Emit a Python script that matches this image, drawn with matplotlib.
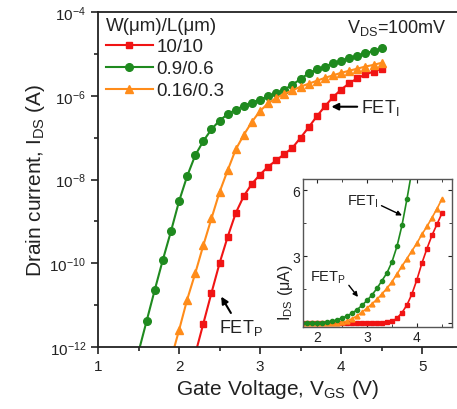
import numpy as np
import matplotlib
matplotlib.use("Agg")
import matplotlib.pyplot as plt
from matplotlib.ticker import NullFormatter, MultipleLocator

plt.rcParams['font.family'] = ['Liberation Sans', 'DejaVu Sans']
plt.rcParams['mathtext.default'] = 'regular'

# ---------------------------------------------------------------
# Main panel data: log10(I_DS / A) vs V_GS (V), step 0.1 V
# ---------------------------------------------------------------
vgs_red = np.round(np.arange(2.2, 4.51, 0.1), 2)
log_red = [-12.17, -11.44, -10.71, -10.00, -9.37, -8.80, -8.39, -8.10, -7.88,
           -7.69, -7.54, -7.39, -7.24, -7.00, -6.75, -6.49, -6.25, -6.03,
           -5.85, -5.70, -5.58, -5.49, -5.42, -5.35]

vgs_green = np.round(np.arange(1.5, 4.51, 0.1), 2)
log_green = [-12.12, -11.38, -10.64, -9.92, -9.24, -8.52, -7.92, -7.42, -7.08,
             -6.80, -6.59, -6.44, -6.33, -6.24, -6.16, -6.09, -6.01, -5.93,
             -5.85, -5.73, -5.60, -5.46, -5.37, -5.30, -5.22, -5.16, -5.10,
             -5.04, -4.98, -4.93, -4.86]

vgs_orange = np.round(np.arange(1.9, 4.51, 0.1), 2)
log_orange = [-12.30, -11.60, -10.87, -10.24, -9.57, -8.93, -8.30, -7.78, -7.28,
              -6.93, -6.62, -6.36, -6.18, -6.05, -5.95, -5.87, -5.78, -5.71,
              -5.64, -5.57, -5.51, -5.45, -5.40, -5.35, -5.30, -5.26, -5.21]

labels = ['10/10', '0.9/0.6', '0.16/0.3']

# ---------------------------------------------------------------
# Inset data: linear I_DS (uA)
# ---------------------------------------------------------------
vin_green = np.round(np.arange(1.7, 3.91, 0.1), 2)
iin_green = [0.0, 0.0, 0.0, 0.0, 0.0, 0.03, 0.06, 0.12, 0.20, 0.30, 0.42, 0.58,
             0.78, 1.00, 1.25, 1.55, 1.90, 2.25, 2.75, 3.45, 4.40, 5.60, 6.90]

vin_orange = np.round(np.arange(1.7, 4.51, 0.1), 2)
iin_orange = [0.0, 0.0, 0.0, 0.0, 0.0, 0.0, 0.0, 0.0, 0.02, 0.06, 0.18, 0.30,
              0.47, 0.65, 0.85, 1.05, 1.30, 1.55, 1.85, 2.20, 2.55, 2.90, 3.25,
              3.60, 4.00, 4.35, 4.75, 5.15, 5.60]

vin_red = np.round(np.arange(1.7, 4.51, 0.1), 2)
iin_red = [0.0, 0.0, 0.0, 0.0, 0.0, 0.0, 0.0, 0.0, 0.0, 0.0, 0.0, 0.0, 0.0,
           0.0, 0.0, 0.0, 0.0, 0.01, 0.05, 0.20, 0.45, 0.80, 1.30, 1.95, 2.70,
           3.35, 3.95, 4.45, 4.95]

RED = '#f01414'
GREEN = '#1f8a1f'
ORANGE = '#ff8c1a'
TXT = '#222222'

fig = plt.figure(figsize=(4.57, 4.10), dpi=100)
ax = fig.add_axes([0.2144, 0.1512, 0.7856, 0.8168])

ax.plot(vgs_red, 10.0 ** np.array(log_red), '-s', color=RED, lw=1.5, ms=5,
        label=labels[0])
ax.plot(vgs_green, 10.0 ** np.array(log_green), '-o', color=GREEN, lw=1.5, ms=5.5,
        label=labels[1])
ax.plot(vgs_orange, 10.0 ** np.array(log_orange), '-^', color=ORANGE, lw=1.5, ms=6,
        label=labels[2])

ax.set_yscale('log')
ax.set_xlim(1, 5.43)
ax.set_ylim(1e-12, 1e-4)
ax.set_yticks([1e-12, 1e-10, 1e-8, 1e-6, 1e-4])
ax.set_yticks([1e-11, 1e-9, 1e-7, 1e-5], minor=True)
ax.yaxis.set_minor_formatter(NullFormatter())
ax.set_xticks([1, 2, 3, 4, 5])
ax.xaxis.set_minor_locator(MultipleLocator(0.5))
ax.tick_params(which='both', direction='out', colors=TXT, labelsize=11, width=1.2)
ax.tick_params(which='major', length=5)
ax.tick_params(which='minor', length=3)
ax.spines['right'].set_visible(False)
for s in ['left', 'bottom', 'top']:
    ax.spines[s].set_linewidth(1.3)
    ax.spines[s].set_color(TXT)

ax.set_xlabel('Gate Voltage, V$_{GS}$ (V)', fontsize=15, color=TXT, labelpad=3)
ax.set_ylabel('Drain current, I$_{DS}$ (A)', fontsize=15, color=TXT, labelpad=2)

leg = ax.legend(loc='upper left', bbox_to_anchor=(-0.01, 1.02), frameon=False,
                title='W(μm)/L(μm)', fontsize=13.5, title_fontsize=13.5,
                handlelength=2.5, handletextpad=0.2, labelspacing=0.25,
                borderaxespad=0.2)
leg._legend_box.align = 'left'
for t in leg.get_texts():
    t.set_color(TXT)
leg.get_title().set_color(TXT)

ax.text(0.97, 0.955, 'V$_{DS}$=100mV', transform=ax.transAxes, fontsize=13,
        ha='right', va='center', color=TXT)

ax.annotate('FET$_{I}$', xy=(3.88, 5.5e-7), xytext=(4.25, 5.5e-7), fontsize=13,
            ha='left', va='center', color=TXT,
            arrowprops=dict(arrowstyle='-|>', color='black', lw=1.5,
                            mutation_scale=10, shrinkA=1, shrinkB=0))
ax.annotate('', xy=(2.52, 1.6e-11), xytext=(2.64, 6.5e-12),
            arrowprops=dict(arrowstyle='-|>', color='black', lw=1.5,
                            mutation_scale=10, shrinkA=0, shrinkB=0))
ax.text(2.49, 3.0e-12, 'FET$_{P}$', fontsize=13, ha='left', va='center', color=TXT)

# ---------------------------------------------------------------
# Inset
# ---------------------------------------------------------------
ins = fig.add_axes([0.663, 0.200, 0.326, 0.361])
ins.plot(vin_red, iin_red, '-s', color=RED, lw=1.2, ms=3)
ins.plot(vin_orange, iin_orange, '-^', color=ORANGE, lw=1.2, ms=3.5)
ins.plot(vin_green, iin_green, '-o', color=GREEN, lw=1.2, ms=3)
ins.set_xlim(1.72, 4.7)
ins.set_ylim(-0.2, 6.5)
ins.set_xticks([2, 3, 4])
ins.xaxis.set_minor_locator(MultipleLocator(0.5))
ins.set_yticks([0, 3, 6])
ins.set_yticklabels(['', '3', '6'])
ins.yaxis.set_minor_locator(MultipleLocator(1.5))
ins.tick_params(which='both', direction='in', top=True, right=True,
                labelsize=10, colors=TXT, pad=2)
ins.tick_params(which='major', length=3)
ins.tick_params(which='minor', length=2)
for s in ins.spines.values():
    s.set_color('#555555')
    s.set_linewidth(1.0)
ins.set_ylabel('I$_{DS}$ (μA)', fontsize=11.5, color=TXT, labelpad=-2, y=0.24)

ins.annotate('FET$_{I}$', xy=(3.7, 4.85), xytext=(2.6, 5.5), fontsize=10.5,
             ha='left', va='center', color=TXT,
             arrowprops=dict(arrowstyle='-|>', color='black', lw=1.0,
                             mutation_scale=7, shrinkA=0, shrinkB=0,
                             relpos=(1.0, 0.3)))
ins.annotate('FET$_{P}$', xy=(2.82, 1.16), xytext=(1.86, 2.07), fontsize=10.5,
             ha='left', va='center', color=TXT,
             arrowprops=dict(arrowstyle='-|>', color='black', lw=1.0,
                             mutation_scale=7, shrinkA=0, shrinkB=0,
                             relpos=(1.0, 0.2)))

fig.savefig('out.png', dpi=100)
